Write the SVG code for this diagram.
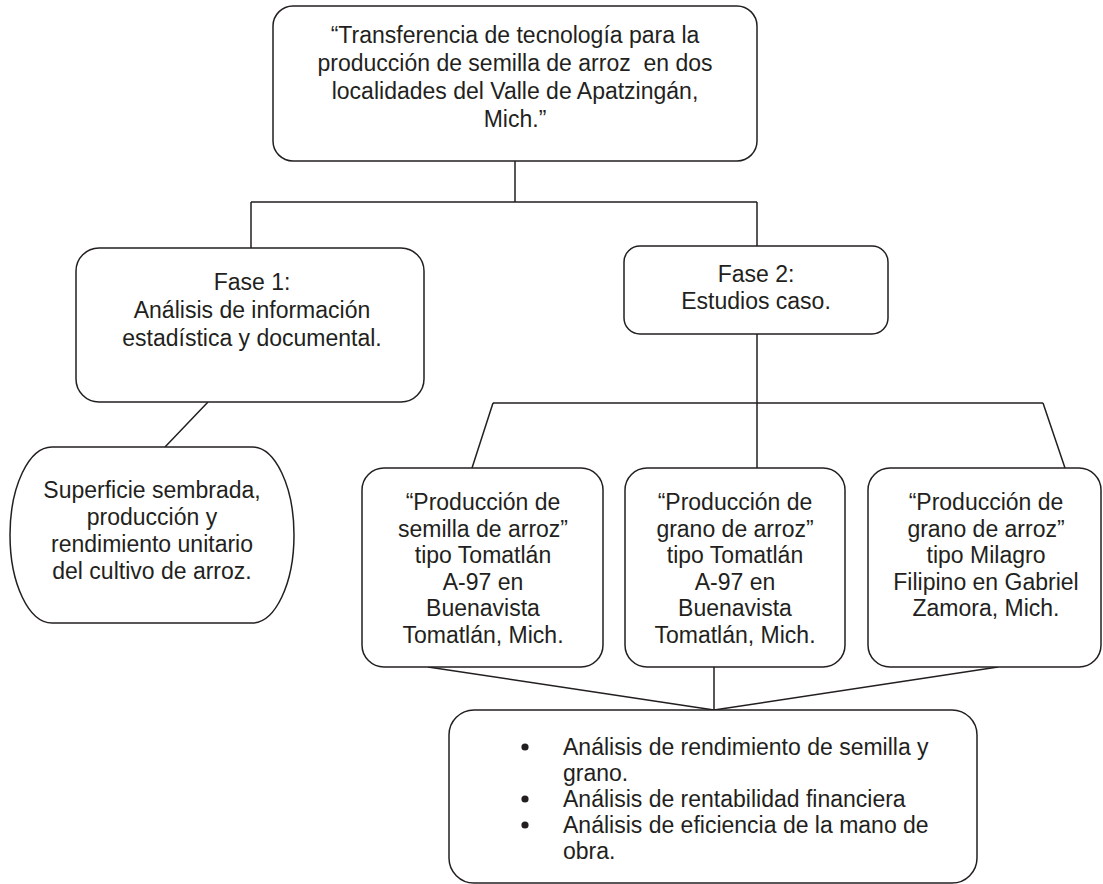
<svg xmlns="http://www.w3.org/2000/svg" width="1103" height="884" viewBox="0 0 1103 884">
<style>
.box{fill:#fff;stroke:#231f20;stroke-width:1.5}
.ln{fill:none;stroke:#231f20;stroke-width:1.5}
.t{font-family:"Liberation Sans",Arial,sans-serif;font-size:23px;fill:#231f20;text-anchor:middle}
.l{font-family:"Liberation Sans",Arial,sans-serif;font-size:23px;fill:#231f20}
.b{fill:#231f20}
</style>
<rect width="1103" height="884" fill="#fff"/>
<g id="connectors">
<path class="ln" d="M515,161V202M251,202H757M251,202V248M757,202V246M757,334V403M493,403H1043M493,403L472,468M1043,403L1065,468M757,403V468M208,402L165,447M428,667L714,710M714,667V710M998,667L714,710"/>
</g>
<g id="top">
<rect class="box" x="273" y="6" width="484" height="155" rx="20"/>
<text class="t" x="515" y="43">“Transferencia de tecnología para la</text>
<text class="t" x="515" y="71" xml:space="preserve">producción de semilla de arroz  en dos</text>
<text class="t" x="515" y="99">localidades del Valle de Apatzingán,</text>
<text class="t" x="515" y="127">Mich.”</text>
</g>
<g id="fase1">
<rect class="box" x="76" y="248" width="348" height="154" rx="23"/>
<text class="t" x="252" y="290">Fase 1:</text>
<text class="t" x="252" y="318">Análisis de información</text>
<text class="t" x="252" y="346">estadística y documental.</text>
</g>
<g id="fase2">
<rect class="box" x="624" y="246" width="264" height="88" rx="16"/>
<text class="t" x="756" y="282">Fase 2:</text>
<text class="t" x="756" y="309">Estudios caso.</text>
</g>
<g id="superficie">
<path class="box" d="M52,447H252A42,88 0 0 1 294,535A42,88 0 0 1 252,623H52A42,88 0 0 1 10,535A42,88 0 0 1 52,447Z"/>
<text class="t" x="152" y="498">Superficie sembrada,</text>
<text class="t" x="152" y="525">producción y</text>
<text class="t" x="152" y="552">rendimiento unitario</text>
<text class="t" x="152" y="579">del cultivo de arroz.</text>
</g>
<g id="caso1">
<rect class="box" x="362" y="468" width="241" height="199" rx="22"/>
<text class="t" x="483" y="510">“Producción de</text>
<text class="t" x="483" y="536.5">semilla de arroz”</text>
<text class="t" x="483" y="563">tipo Tomatlán</text>
<text class="t" x="483" y="589.5">A-97 en</text>
<text class="t" x="483" y="616">Buenavista</text>
<text class="t" x="483" y="642.5">Tomatlán, Mich.</text>
</g>
<g id="caso2">
<rect class="box" x="625" y="468" width="220" height="199" rx="22"/>
<text class="t" x="735" y="510">“Producción de</text>
<text class="t" x="735" y="536.5">grano de arroz”</text>
<text class="t" x="735" y="563">tipo Tomatlán</text>
<text class="t" x="735" y="589.5">A-97 en</text>
<text class="t" x="735" y="616">Buenavista</text>
<text class="t" x="735" y="642.5">Tomatlán, Mich.</text>
</g>
<g id="caso3">
<rect class="box" x="868" y="468" width="233" height="199" rx="22"/>
<text class="t" x="986" y="510">“Producción de</text>
<text class="t" x="986" y="536.5">grano de arroz”</text>
<text class="t" x="986" y="563">tipo Milagro</text>
<text class="t" x="986" y="589.5">Filipino en Gabriel</text>
<text class="t" x="986" y="616">Zamora, Mich.</text>
</g>
<g id="analisis">
<rect class="box" x="449" y="710" width="528" height="173" rx="25"/>
<circle class="b" cx="525" cy="747" r="3.6"/>
<circle class="b" cx="525" cy="799" r="3.6"/>
<circle class="b" cx="525" cy="825" r="3.6"/>
<text class="l" x="563" y="755">Análisis de rendimiento de semilla y</text>
<text class="l" x="563" y="781">grano.</text>
<text class="l" x="563" y="807">Análisis de rentabilidad financiera</text>
<text class="l" x="563" y="833">Análisis de eficiencia de la mano de</text>
<text class="l" x="563" y="859">obra.</text>
</g>
</svg>
